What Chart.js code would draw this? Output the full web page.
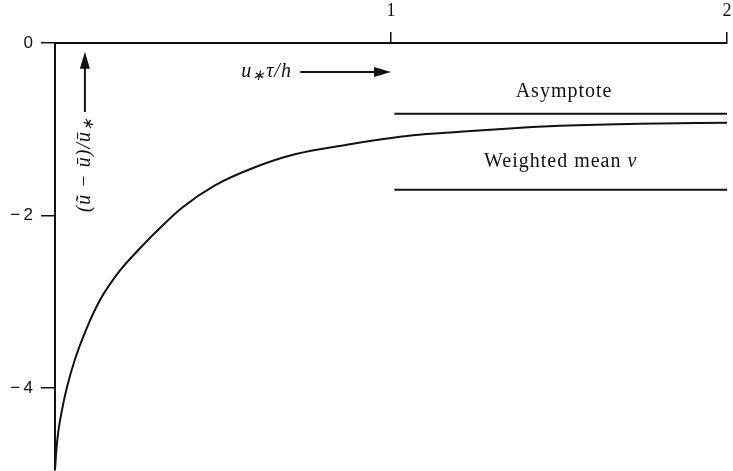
<!DOCTYPE html>
<html>
<head>
<meta charset="utf-8">
<script src="https://cdn.jsdelivr.net/npm/chart.js@4.4.1/dist/chart.umd.min.js"></script>
<style>
  html, body { margin: 0; padding: 0; background: #fff; }
  #wrap { width: 733px; height: 471px; position: relative; }
</style>
</head>
<body>
<div id="wrap"><canvas id="chart"></canvas></div>
<script>
// velocity deficit (ũ − ū)/ū∗ against u∗τ/h
const curveX = [0, 0.004, 0.01, 0.02, 0.035, 0.06, 0.094, 0.134, 0.193, 0.253, 0.298, 0.378, 0.476, 0.595, 0.714, 0.869, 0.967, 1.065, 1.205, 1.354, 1.503, 1.741, 2.0];
const curveY = [-4.95, -4.72, -4.50, -4.27, -4.00, -3.66, -3.31, -2.98, -2.64, -2.38, -2.20, -1.91, -1.65, -1.44, -1.29, -1.18, -1.12, -1.07, -1.03, -0.99, -0.96, -0.935, -0.925];

// horizontal reference levels
const asymptoteX = [1.01, 2.0];
const asymptoteY = [-0.82, -0.82];
const meanX = [1.01, 2.0];
const meanY = [-1.70, -1.70];

const xTicks = [1, 2];
const yTicks = [0, -2, -4];
const yMin = -4.95;

const INK = '#111';
const SERIF = '"Liberation Serif", "Times New Roman", serif';
const SANS = '"Liberation Sans", Arial, sans-serif';

const pts = (xs, ys) => xs.map((x, i) => ({ x, y: ys[i] }));

// draw a sequence of text runs (different fonts / offsets) centred or right aligned
function drawRuns(ctx, runs, x, y, align) {
  let w = 0;
  runs.forEach(r => { ctx.font = r.font; w += ctx.measureText(r.t).width; });
  let cx = align === 'right' ? x - w : x - w / 2;
  runs.forEach(r => {
    ctx.font = r.font;
    ctx.fillText(r.t, cx, y + (r.dy || 0));
    cx += ctx.measureText(r.t).width;
  });
}

function arrow(ctx, x1, y1, x2, y2) {
  const a = Math.atan2(y2 - y1, x2 - x1);
  const len = 17, half = 5;
  ctx.beginPath();
  ctx.moveTo(x1, y1);
  ctx.lineTo(x2 - Math.cos(a) * len * 0.8, y2 - Math.sin(a) * len * 0.8);
  ctx.stroke();
  ctx.beginPath();
  ctx.moveTo(x2, y2);
  ctx.lineTo(x2 - Math.cos(a) * len - Math.sin(a) * half, y2 - Math.sin(a) * len + Math.cos(a) * half);
  ctx.lineTo(x2 - Math.cos(a) * len + Math.sin(a) * half, y2 - Math.sin(a) * len - Math.cos(a) * half);
  ctx.closePath();
  ctx.fill();
}

const annotate = {
  id: 'annotate',
  afterDatasetsDraw(chart) {
    const { ctx, scales: { x, y } } = chart;
    const px = v => x.getPixelForValue(v);
    const py = v => y.getPixelForValue(v);
    const it = size => `italic ${size}px ${SERIF}`;
    const rm = size => `${size}px ${SERIF}`;

    ctx.save();
    ctx.fillStyle = INK;
    ctx.strokeStyle = INK;
    ctx.lineWidth = 2;
    ctx.textBaseline = 'middle';
    ctx.letterSpacing = '1px';

    drawRuns(ctx, [{ t: 'Asymptote', font: rm(20) }], px(1.515), py(-0.565), 'center');
    drawRuns(ctx, [{ t: 'Weighted mean ', font: rm(20) }, { t: 'ν', font: it(20) }], px(1.505), py(-1.38), 'center');

    // time axis label
    drawRuns(ctx, [
      { t: 'u', font: it(20) },
      { t: '∗', font: it(15), dy: 4 },
      { t: 'τ/h', font: it(20) }
    ], px(0.705), py(-0.335), 'right');
    arrow(ctx, px(0.73), py(-0.335), px(1.0), py(-0.335));

    // deficit axis label, rotated
    ctx.save();
    ctx.translate(px(0.089), py(-1.41));
    ctx.rotate(-Math.PI / 2);
    drawRuns(ctx, [
      { t: '(ũ − ū)/ū', font: it(20) },
      { t: '∗', font: it(15), dy: 4 }
    ], 0, 0, 'center');
    ctx.restore();
    arrow(ctx, px(0.089), py(-0.80), px(0.089), py(-0.10));

    ctx.restore();
  }
};

// no extra room for half-labels at the axis ends
const noEndPadding = s => {
  s.paddingTop = 0; s.paddingBottom = 0;
  s.paddingLeft = 0; s.paddingRight = 0;
};

new Chart(document.getElementById('chart'), {
  type: 'line',
  data: {
    datasets: [
      { data: pts(curveX, curveY), borderColor: INK, borderWidth: 2, pointRadius: 0, cubicInterpolationMode: 'monotone', fill: false },
      { data: pts(asymptoteX, asymptoteY), borderColor: INK, borderWidth: 2, pointRadius: 0, fill: false },
      { data: pts(meanX, meanY), borderColor: INK, borderWidth: 2, pointRadius: 0, fill: false }
    ]
  },
  options: {
    responsive: true,
    maintainAspectRatio: false,
    animation: false,
    layout: { padding: { top: 0, right: 6, bottom: 1, left: 0 } },
    plugins: { legend: { display: false }, tooltip: { enabled: false } },
    scales: {
      x: {
        type: 'linear',
        position: 'top',
        min: 0,
        max: 2,
        afterBuildTicks: s => { s.ticks = xTicks.map(v => ({ value: v })); },
        afterFit: s => { s.height = 43; noEndPadding(s); },
        grid: { drawOnChartArea: false, tickLength: 11, color: INK, lineWidth: 1.5 },
        border: { color: INK, width: 2 },
        ticks: { color: INK, font: { family: SERIF, size: 18 }, padding: 10, maxRotation: 0, autoSkip: false }
      },
      y: {
        type: 'linear',
        position: 'left',
        min: yMin,
        max: 0,
        afterBuildTicks: s => { s.ticks = yTicks.map(v => ({ value: v })); },
        afterFit: s => { s.width = 55; noEndPadding(s); },
        grid: { drawOnChartArea: false, tickLength: 14, color: INK, lineWidth: 1.5 },
        border: { color: INK, width: 2 },
        ticks: {
          color: INK,
          font: { family: SANS, size: 17 },
          padding: 8,
          callback: v => v === 0 ? '0' : '\u2212\u2009' + Math.abs(v)
        }
      }
    }
  },
  plugins: [annotate]
});
</script>
</body>
</html>
